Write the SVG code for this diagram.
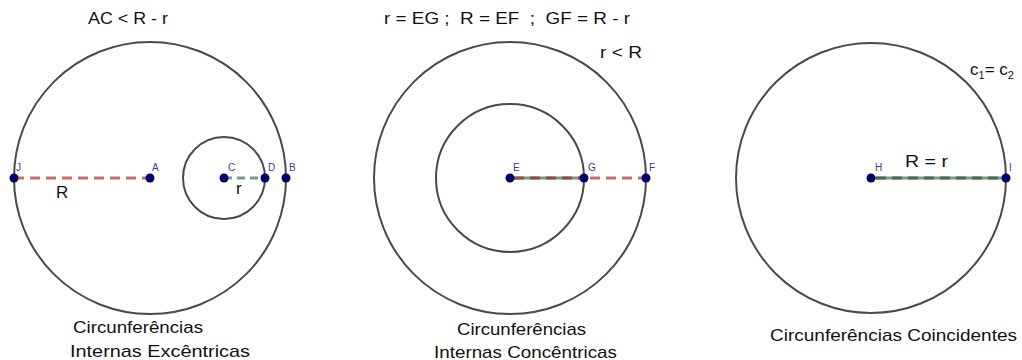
<svg xmlns="http://www.w3.org/2000/svg" width="1022" height="360" viewBox="0 0 1022 360">
<style>
.c{fill:none;stroke:#4a4a4a;stroke-width:2}
.p{fill:#00006b}
.lb{font-family:"Liberation Sans",Arial,sans-serif;font-size:10px;fill:#3b3b9b}
.t{font-family:"Liberation Sans",Arial,sans-serif;font-size:17px;fill:#111}
.red{stroke:#d06a6a;stroke-width:3;stroke-dasharray:10,6;fill:none}
.grn{stroke:#6f9f80;stroke-width:3;fill:none}
.grnd{stroke:#6f9f80;stroke-width:3;stroke-dasharray:8,5;fill:none}
.dred{stroke:#9a4a44;stroke-width:3;stroke-dasharray:10,6;fill:none}
.dgr{stroke:#4d6a55;stroke-width:3;stroke-dasharray:10,6;fill:none}
</style>
<rect width="1022" height="360" fill="#fff"/>
<g id="connectors">
<line class="red" x1="14" y1="178" x2="150" y2="178"/>
<line class="grnd" x1="224" y1="178" x2="265" y2="178"/>
<line class="grn" x1="510" y1="178" x2="584" y2="178"/>
<line class="dred" x1="514" y1="178" x2="584" y2="178"/>
<line class="red" x1="590" y1="178" x2="646" y2="178"/>
<line class="grn" x1="871" y1="178" x2="1006" y2="178"/>
<line class="dgr" x1="876" y1="178" x2="1006" y2="178"/>
</g>
<g id="circles-left">
<circle class="c" cx="150" cy="178" r="136"/>
<circle class="c" cx="224" cy="178" r="41"/>
</g>
<g id="circles-middle">
<circle class="c" cx="510" cy="178" r="136"/>
<circle class="c" cx="510" cy="178" r="74"/>
</g>
<g id="circles-right">
<circle class="c" cx="871" cy="178" r="135"/>
</g>
<g id="point-J"><circle class="p" cx="14" cy="178" r="4.5"/><text class="lb" x="16" y="171">J</text></g>
<g id="point-A"><circle class="p" cx="150" cy="178" r="4.5"/><text class="lb" x="152" y="171">A</text></g>
<g id="point-C"><circle class="p" cx="224" cy="178" r="4.5"/><text class="lb" x="228" y="171">C</text></g>
<g id="point-D"><circle class="p" cx="265" cy="178" r="4.5"/><text class="lb" x="268" y="171">D</text></g>
<g id="point-B"><circle class="p" cx="286" cy="178" r="4.5"/><text class="lb" x="289" y="171">B</text></g>
<g id="point-E"><circle class="p" cx="510" cy="178" r="4.5"/><text class="lb" x="513" y="171">E</text></g>
<g id="point-G"><circle class="p" cx="584" cy="178" r="4.5"/><text class="lb" x="588" y="171">G</text></g>
<g id="point-F"><circle class="p" cx="646" cy="178" r="4.5"/><text class="lb" x="649" y="171">F</text></g>
<g id="point-H"><circle class="p" cx="871" cy="178" r="4.5"/><text class="lb" x="875" y="171">H</text></g>
<g id="point-I"><circle class="p" cx="1006" cy="178" r="4.5"/><text class="lb" x="1009" y="171">I</text></g>
<g id="labels">
<text class="t" x="88" y="24" textLength="80" lengthAdjust="spacingAndGlyphs">AC &lt; R - r</text>
<text class="t" x="56" y="198">R</text>
<text class="t" x="236" y="194">r</text>
<text class="t" x="384" y="24" xml:space="preserve" textLength="246" lengthAdjust="spacingAndGlyphs">r = EG ;  R = EF  ;  GF = R - r</text>
<text class="t" x="600" y="58" textLength="42" lengthAdjust="spacingAndGlyphs">r &lt; R</text>
<text class="t" x="970" y="75">c<tspan font-size="11" dy="4">1</tspan><tspan dy="-4">= c</tspan><tspan font-size="11" dy="4">2</tspan></text>
<text class="t" x="905" y="167" textLength="43" lengthAdjust="spacingAndGlyphs">R = r</text>
<text class="t" x="73" y="333" textLength="130" lengthAdjust="spacingAndGlyphs">Circunferências</text>
<text class="t" x="70" y="357" textLength="180" lengthAdjust="spacingAndGlyphs">Internas Excêntricas</text>
<text class="t" x="457" y="335" textLength="129" lengthAdjust="spacingAndGlyphs">Circunferências</text>
<text class="t" x="434" y="358" textLength="183" lengthAdjust="spacingAndGlyphs">Internas Concêntricas</text>
<text class="t" x="770" y="341" textLength="247" lengthAdjust="spacingAndGlyphs">Circunferências Coincidentes</text>
</g>
</svg>
